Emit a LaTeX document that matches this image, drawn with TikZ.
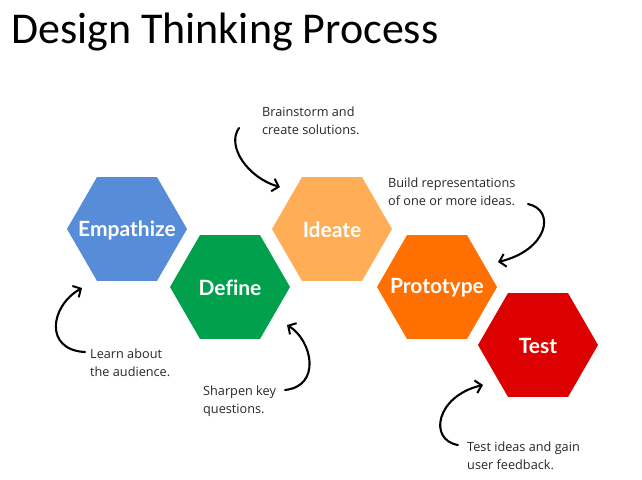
\documentclass[tikz,border=0pt]{standalone}
\usepackage{fontspec}
\setmainfont{Open Sans}
\newfontfamily\titlefont{Carlito}
\newfontfamily\hexfont[Ligatures=NoCommon]{Lato}
\usetikzlibrary{arrows.meta}
\definecolor{cEmp}{RGB}{86,140,216}
\definecolor{cDef}{RGB}{0,160,76}
\definecolor{cIde}{RGB}{255,174,87}
\definecolor{cPro}{RGB}{255,112,0}
\definecolor{cTst}{RGB}{221,0,0}
\definecolor{annot}{RGB}{40,40,40}
\begin{document}
\begin{tikzpicture}[x=1pt,y=-1pt,
  hexlabel/.style={text=white,font=\hexfont\bfseries\fontsize{21}{21}\selectfont,inner sep=0pt},
  annotext/.style={text=annot,font=\fontsize{12.7}{17.5}\selectfont,align=left,anchor=north west,inner sep=0pt},
  handarrow/.style={line width=2.1pt,line cap=round,-{Straight Barb[length=6pt,width=13pt,line width=2pt]}}]
\useasboundingbox (0,0) rectangle (642,479);
\fill[white] (0,0) rectangle (642,479);
\node[anchor=base west,inner sep=0pt,font=\titlefont\fontsize{44}{44}\selectfont] (title) at (11,43) {Design Thinking Process};
% hexagons
\newcommand\hexat[3]{\fill[#3] (#1,#2) +(0:60) -- +(60:60) -- +(120:60) -- +(180:60) -- +(240:60) -- +(300:60) -- cycle;}
\hexat{127}{229}{cEmp}
\hexat{230}{287}{cDef}
\hexat{332}{229}{cIde}
\hexat{437}{287}{cPro}
\hexat{538}{345}{cTst}
\node[hexlabel] (emp) at (127,230) {Empathize};
\node[hexlabel] (def) at (230,288) {Define};
\node[hexlabel] (ide) at (332,230) {Ideate};
\node[hexlabel] (pro) at (437,288) {Prototype};
\node[hexlabel] (tst) at (538,346) {Test};
% annotations
\node[annotext] (a1) at (262,107) {Brainstorm and\\create solutions.};
\node[annotext] (a2) at (388,178) {Build representations\\of one or more ideas.};
\node[annotext] (a3) at (90,349) {Learn about\\the audience.};
\node[annotext] (a4) at (203,386) {Sharpen key\\questions.};
\node[annotext] (a5) at (467,442) {Test ideas and gain\\user feedback.};
% arrow ends
\coordinate (t1) at (239,128); \coordinate (h1) at (280,187);
\coordinate (t2) at (528,204); \coordinate (h2) at (498,262);
\coordinate (t3) at (85,352);  \coordinate (h3) at (82,288);
\coordinate (t4) at (285,390); \coordinate (h4) at (287,325);
\coordinate (t5) at (458,445); \coordinate (h5) at (483,385);
\draw[handarrow] (t1) .. controls (226,146) and (248,178) .. (h1);
\draw[handarrow] (t2) .. controls (556,210) and (548,250) .. (h2);
\draw[handarrow] (t3) .. controls (44,350) and (50,306) .. (h3);
\draw[handarrow] (t4) .. controls (322,386) and (312,340) .. (h4);
\draw[handarrow] (t5) .. controls (428,440) and (436,396) .. (h5);
\end{tikzpicture}
\end{document}
